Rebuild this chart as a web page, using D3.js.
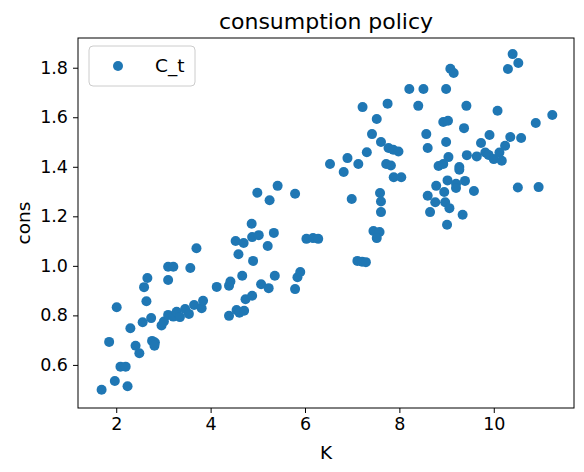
<!DOCTYPE html>
<html><head><meta charset="utf-8">
<script src="https://cdn.jsdelivr.net/npm/d3@7"></script>
<style>body{margin:0;background:#fff}text{font-family:"DejaVu Sans",sans-serif}</style>
</head><body>
<svg id="c" width="584" height="472"></svg>
<script>
const kValues=[1.69,1.97,2.24,1.85,2.01,2.09,2.20,2.30,2.41,2.49,2.56,2.74,2.76,2.82,2.81,2.64,2.59,2.66,3.10,3.10,3.21,2.96,3.01,3.10,3.21,3.28,3.35,3.46,3.54,3.65,3.81,3.84,3.57,3.70,4.13,4.39,4.55,4.61,4.71,4.74,4.88,4.39,4.42,4.67,5.07,5.23,5.36,4.53,4.70,4.59,4.90,4.88,5.02,4.87,5.21,5.34,4.99,5.42,5.25,5.79,5.79,5.84,5.90,6.03,6.17,6.28,
6.53,6.90,6.82,7.13,6.99,7.22,7.31,7.42,7.52,7.75,7.61,7.77,7.87,7.98,7.72,7.82,7.88,8.04,7.59,7.61,7.61,7.45,7.58,7.52,7.11,7.21,7.29,8.21,8.51,8.40,8.99,9.08,9.15,9.42,8.57,8.60,8.93,9.03,8.99,9.04,8.83,8.93,9.27,9.27,9.37,9.43,9.02,9.20,9.20,9.39,9.58,8.78,8.95,8.60,8.76,8.65,8.97,9.06,9.34,9.01,9.73,9.91,9.64,9.82,9.89,10.0,10.12,10.17,10.24,10.35,10.58,10.08,10.30,10.40,10.52,10.89,11.24,10.51,10.95];
const consValues=[0.50,0.535,0.514,0.693,0.833,0.593,0.593,0.748,0.677,0.647,0.772,0.789,0.697,0.690,0.677,0.857,0.914,0.951,0.943,0.996,0.996,0.759,0.775,0.802,0.795,0.815,0.793,0.826,0.806,0.842,0.829,0.859,0.991,1.071,0.915,0.798,0.822,0.811,0.819,0.865,0.879,0.920,0.937,0.960,0.926,0.910,0.960,1.100,1.092,1.047,1.020,1.116,1.124,1.170,1.080,1.133,1.295,1.323,1.265,1.291,0.906,0.954,0.975,1.109,1.112,1.109,
1.411,1.435,1.379,1.411,1.270,1.641,1.459,1.532,1.593,1.655,1.500,1.476,1.469,1.462,1.411,1.405,1.358,1.358,1.294,1.260,1.217,1.141,1.137,1.112,1.020,1.017,1.015,1.714,1.714,1.646,1.714,1.796,1.779,1.646,1.532,1.476,1.581,1.586,1.500,1.439,1.403,1.411,1.399,1.388,1.556,1.447,1.345,1.331,1.314,1.343,1.302,1.323,1.298,1.283,1.257,1.217,1.257,1.233,1.206,1.166,1.496,1.528,1.442,1.458,1.448,1.431,1.458,1.424,1.485,1.520,1.516,1.626,1.795,1.855,1.819,1.577,1.609,1.316,1.318];
const xTicks=[2,4,6,8,10];
const yTicks=[0.6,0.8,1.0,1.2,1.4,1.6,1.8];
const title="consumption policy", seriesName="C_t";
const color="#1f77b4";
const L=78,R=574,T=38,B=408;
const x=d3.scaleLinear().domain([1.19,11.7]).range([L,R]);
const y=d3.scaleLinear().domain([0.426,1.92]).range([B,T]);
const svg=d3.select("#c");
svg.append("g").selectAll("circle").data(kValues).join("circle")
 .attr("cx",d=>x(d)).attr("cy",(d,i)=>y(consValues[i])).attr("r",5).attr("fill",color);
const ax=svg.append("g").attr("transform",`translate(0,${B})`).call(d3.axisBottom(x).tickValues(xTicks).tickFormat(d3.format("d")).tickSize(5).tickPadding(5));
const ay=svg.append("g").attr("transform",`translate(${L},0)`).call(d3.axisLeft(y).tickValues(yTicks).tickFormat(d3.format(".1f")).tickSize(5).tickPadding(5));
[ax,ay].forEach(a=>{a.select(".domain").remove();a.selectAll("text").attr("font-size",17.5).attr("font-family","DejaVu Sans").attr("fill","#000");a.selectAll("line").attr("stroke","#000");});
svg.append("rect").attr("x",L).attr("y",T).attr("width",R-L).attr("height",B-T).attr("fill","none").attr("stroke","#000").attr("stroke-width",1);
svg.append("text").attr("x",(L+R)/2).attr("y",29).attr("text-anchor","middle").attr("font-size",22).text(title);
svg.append("text").attr("x",(L+R)/2).attr("y",459).attr("text-anchor","middle").attr("font-size",18.5).text("K");
svg.append("text").attr("transform",`translate(30,${(T+B)/2}) rotate(-90)`).attr("text-anchor","middle").attr("font-size",18.5).text("cons");
const lg=svg.append("g");
lg.append("rect").attr("x",89).attr("y",46).attr("width",106).attr("height",40).attr("rx",4).attr("fill","#fff").attr("fill-opacity",0.8).attr("stroke","#ccc");
lg.append("circle").attr("cx",118).attr("cy",66).attr("r",5).attr("fill",color);
lg.append("text").attr("x",155).attr("y",72).attr("font-size",18.5).text(seriesName);
</script></body></html>
